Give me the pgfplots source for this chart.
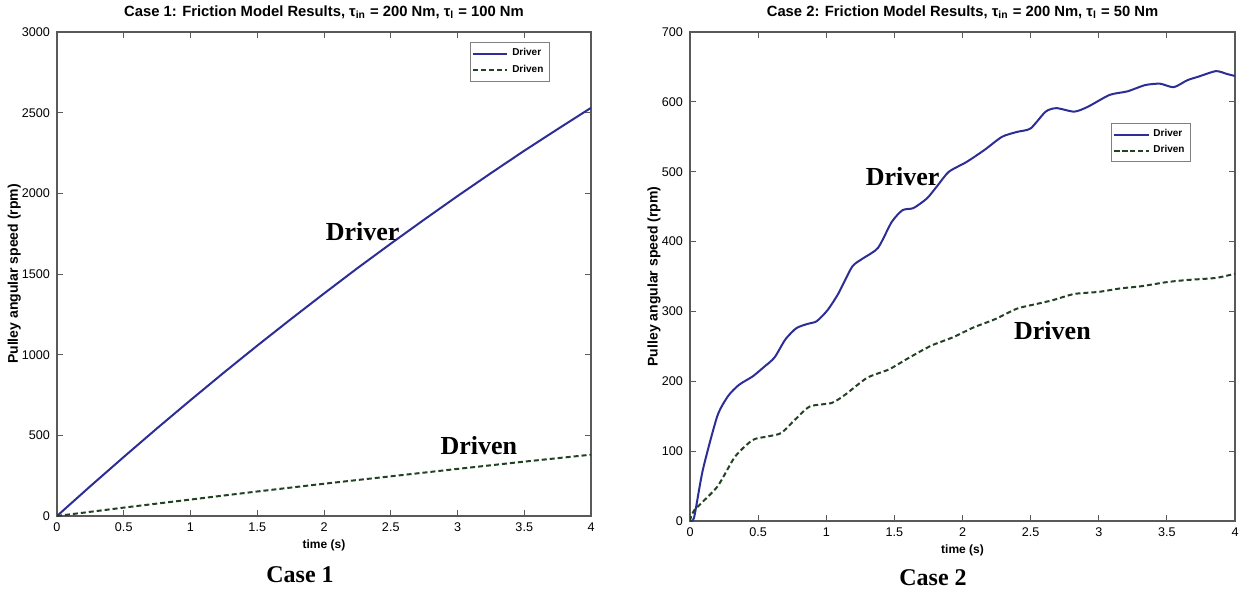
\documentclass[border=0pt]{standalone}
\usepackage{fontspec}
\setmainfont{Liberation Sans}
\newfontfamily\serifb{Liberation Serif}
\usepackage{pgfplots}
\pgfplotsset{compat=1.18}

\definecolor{drvblue}{RGB}{45,45,150}
\definecolor{drngreen}{RGB}{35,65,35}

\pgfplotsset{matstyle/.style={
  scale only axis,
  axis line style={gray!70!black, line width=0.6pt},
  tick style={gray!70!black, line width=0.5pt},
  tick align=inside, major tick length=3pt,
  xmin=0, xmax=4,
  xtick={0,0.5,1,1.5,2,2.5,3,3.5,4},
  ticklabel style={font=\fontsize{6.3}{7}\selectfont},
  /pgf/number format/assume math mode=true,
  /pgf/number format/1000 sep={},
  title style={font=\bfseries\fontsize{7.4}{8}\selectfont, yshift=-3pt},
  xlabel style={font=\bfseries\fontsize{6}{7}\selectfont, yshift=3pt},
  ylabel style={font=\bfseries\fontsize{7}{8}\selectfont, anchor=center},
  legend style={font=\bfseries\fontsize{5}{6}\selectfont, draw=gray, line width=0.5pt,
    inner sep=1pt, row sep=-1pt},
  legend cell align=left,
  xlabel={time (s)},
  ylabel={Pulley angular speed (rpm)},
  drv/.style={color=drvblue, line width=1pt},
  drn/.style={color=drngreen, line width=1pt, dash pattern=on 2.5pt off 1.5pt},
}}

\begin{document}
\begin{tikzpicture}
\useasboundingbox (0,0) rectangle (620pt,-296pt);

% Case 1
\begin{axis}[matstyle,
  at={(28.5pt,-258pt)}, anchor=south west,
  width=267pt, height=242pt,
  ymin=0, ymax=3000, ytick={0,500,1000,1500,2000,2500,3000},
  ylabel style={at={(axis description cs:-0.08,0.5)}},
  title={Case 1: Friction Model Results, τ\textsubscript{in} = 200 Nm, τ\textsubscript{l} = 100 Nm},
  legend style={at={(0.923,0.979)}, anchor=north east},
]
\addplot[drv] coordinates {
(0,0) (0.25,185) (0.5,366) (0.75,544) (1,718) (1.25,889) (1.5,1056) (1.75,1219)
(2,1379) (2.25,1536) (2.5,1688) (2.75,1837) (3,1983) (3.25,2125) (3.5,2264)
(3.75,2398) (4,2530)};
\addplot[drn] coordinates {
(0,0) (0.5,52) (1,102) (1.5,152) (2,200) (2.5,246) (3,292) (3.5,337) (4,380)};
\legend{Driver,Driven}
\node[font=\serifb\bfseries\fontsize{13}{15}\selectfont] at (axis cs:2.29,1762) {Driver};
\node[font=\serifb\bfseries\fontsize{13}{15}\selectfont] at (axis cs:3.16,437) {Driven};
\end{axis}

% Case 2
\begin{axis}[matstyle,
  at={(345pt,-260.5pt)}, anchor=south west,
  width=272.5pt, height=244.5pt,
  ymin=0, ymax=700, ytick={0,100,200,300,400,500,600,700},
  ylabel style={at={(axis description cs:-0.066,0.5)}},
  title={Case 2: Friction Model Results, τ\textsubscript{in} = 200 Nm, τ\textsubscript{l} = 50 Nm},
  legend style={at={(0.772,0.814)}, anchor=north west},
]
\addplot[drv, smooth, tension=0.4] coordinates {
(0,0) (0.03,5) (0.094,73) (0.2,150) (0.28,179) (0.36,195) (0.46,207) (0.54,220)
(0.62,234) (0.7,260) (0.78,276) (0.86,282) (0.93,286) (1.01,302) (1.09,326)
(1.19,364) (1.27,376) (1.38,391) (1.48,428) (1.56,445) (1.64,448) (1.74,462)
(1.82,481) (1.9,500) (2.03,514) (2.16,531) (2.29,550) (2.4,557) (2.5,562)
(2.61,586) (2.69,591) (2.82,586) (2.92,593) (3.08,610) (3.21,615) (3.34,624)
(3.45,626) (3.55,621) (3.65,631) (3.73,636) (3.86,644) (3.94,640) (4,637)};
\addplot[drn, smooth, tension=0.4] coordinates {
(0,0) (0.03,15) (0.2,49) (0.33,92) (0.46,116) (0.57,121) (0.67,126) (0.77,145)
(0.88,164) (1.04,169) (1.14,181) (1.3,205) (1.46,217) (1.61,234) (1.77,251)
(1.93,263) (2.08,277) (2.24,289) (2.4,304) (2.55,311) (2.66,316) (2.82,325)
(3.0,328) (3.16,333) (3.31,336) (3.5,342) (3.65,345) (3.86,348) (4,354)};
\legend{Driver,Driven}
\node[font=\serifb\bfseries\fontsize{13}{15}\selectfont] at (axis cs:1.56,493) {Driver};
\node[font=\serifb\bfseries\fontsize{13}{15}\selectfont] at (axis cs:2.66,273) {Driven};
\end{axis}

\node[font=\serifb\bfseries\fontsize{12}{14}\selectfont] at (150pt,-287.5pt) {Case 1};
\node[font=\serifb\bfseries\fontsize{12}{14}\selectfont] at (466.5pt,-289pt) {Case 2};
\end{tikzpicture}
\end{document}
